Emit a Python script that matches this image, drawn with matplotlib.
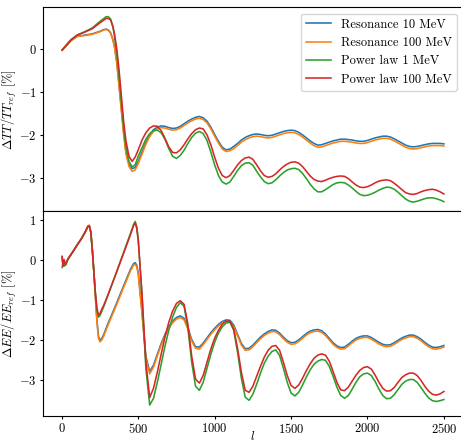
import matplotlib
matplotlib.use("Agg")
import matplotlib.pyplot as plt

plt.rcParams.update({
    "font.family": "serif",
    "font.serif": ["cmr10", "DejaVu Serif"],
    "mathtext.fontset": "cm",
    "axes.formatter.use_mathtext": True,
    "font.size": 9,
})

labels = ["Resonance 10 MeV", "Resonance 100 MeV", "Power law 1 MeV", "Power law 100 MeV"]
colors = ["#1f77b4", "#ff7f0e", "#2ca02c", "#d62728"]

# ---------------- TT panel ----------------
ell_tt = [2, 30, 60, 100, 150, 200, 250, 275, 290, 305, 320, 335, 345, 360,
          375, 390, 405, 420, 440, 460, 480] + list(range(500, 2501, 25))

tt_res10 = [-0.02, 0.08, 0.2, 0.3, 0.33, 0.36, 0.42, 0.46, 0.47, 0.45, 0.38, 0.22, 0.05, -0.3,
            -0.85, -1.4, -1.95, -2.4, -2.68, -2.79, -2.76,
            -2.62, -2.4, -2.18, -2.0, -1.88, -1.82, -1.79, -1.8, -1.83, -1.85,
            -1.84, -1.8, -1.74, -1.68, -1.63, -1.59, -1.57, -1.6, -1.68, -1.82,
            -1.99, -2.15, -2.29, -2.35, -2.33, -2.27, -2.2, -2.12, -2.06, -2.02,
            -1.99, -1.98, -1.99, -2.01, -2.02, -2.01, -1.98, -1.95, -1.92, -1.9,
            -1.89, -1.9, -1.94, -2.0, -2.07, -2.14, -2.2, -2.24, -2.23, -2.2,
            -2.17, -2.14, -2.12, -2.1, -2.1, -2.11, -2.12, -2.14, -2.15, -2.15,
            -2.13, -2.1, -2.07, -2.05, -2.03, -2.03, -2.05, -2.09, -2.14, -2.19,
            -2.24, -2.27, -2.28, -2.27, -2.25, -2.23, -2.21, -2.2, -2.2, -2.2,
            -2.21]

tt_res100 = [-0.02, 0.08, 0.2, 0.3, 0.32, 0.35, 0.41, 0.45, 0.46, 0.44, 0.37, 0.21, 0.04, -0.32,
             -0.88, -1.45, -2.0, -2.45, -2.74, -2.85, -2.82,
             -2.67, -2.45, -2.22, -2.04, -1.92, -1.86, -1.83, -1.84, -1.87, -1.89,
             -1.88, -1.84, -1.78, -1.72, -1.67, -1.63, -1.61, -1.64, -1.72, -1.86,
             -2.03, -2.19, -2.33, -2.39, -2.37, -2.32, -2.25, -2.17, -2.11, -2.07,
             -2.04, -2.03, -2.04, -2.06, -2.07, -2.06, -2.03, -2.0, -1.97, -1.95,
             -1.94, -1.95, -1.99, -2.05, -2.12, -2.19, -2.25, -2.29, -2.28, -2.25,
             -2.22, -2.19, -2.17, -2.15, -2.15, -2.16, -2.17, -2.19, -2.2, -2.2,
             -2.18, -2.15, -2.12, -2.1, -2.08, -2.08, -2.1, -2.14, -2.19, -2.24,
             -2.29, -2.32, -2.33, -2.32, -2.3, -2.28, -2.26, -2.25, -2.25, -2.25,
             -2.26]

tt_pl1 = [-0.02, 0.1, 0.22, 0.33, 0.41, 0.5, 0.65, 0.72, 0.76, 0.76, 0.7, 0.52, 0.3, -0.1,
          -0.65, -1.25, -1.85, -2.3, -2.62, -2.75, -2.7,
          -2.5, -2.3, -2.1, -1.97, -1.9, -1.89, -1.95, -2.1, -2.32, -2.5,
          -2.55, -2.48, -2.36, -2.2, -2.06, -1.96, -1.92, -1.97, -2.13, -2.4,
          -2.7, -2.95, -3.1, -3.15, -3.1, -2.97, -2.83, -2.72, -2.66, -2.65,
          -2.71, -2.85, -2.98, -3.09, -3.14, -3.12, -3.05, -2.96, -2.88, -2.82,
          -2.79, -2.78, -2.81, -2.9, -3.02, -3.15, -3.26, -3.33, -3.33, -3.28,
          -3.22, -3.16, -3.12, -3.11, -3.12, -3.17, -3.24, -3.32, -3.39, -3.42,
          -3.41, -3.38, -3.34, -3.29, -3.25, -3.22, -3.23, -3.27, -3.34, -3.42,
          -3.5, -3.55, -3.57, -3.55, -3.52, -3.49, -3.47, -3.47, -3.49, -3.52,
          -3.56]

tt_pl100 = [-0.02, 0.1, 0.22, 0.33, 0.4, 0.48, 0.62, 0.68, 0.72, 0.72, 0.68, 0.52, 0.35, 0.0,
            -0.5, -1.1, -1.7, -2.15, -2.5, -2.62, -2.52,
            -2.35, -2.12, -1.95, -1.84, -1.79, -1.8, -1.9, -2.08, -2.28, -2.41,
            -2.42, -2.35, -2.23, -2.09, -1.97, -1.88, -1.84, -1.86, -2.0, -2.23,
            -2.52, -2.78, -2.95, -3.0, -2.95, -2.83, -2.7, -2.6, -2.54, -2.52,
            -2.57, -2.7, -2.84, -2.95, -2.99, -2.97, -2.91, -2.82, -2.74, -2.68,
            -2.64, -2.63, -2.66, -2.74, -2.85, -2.96, -3.04, -3.08, -3.09, -3.06,
            -3.02, -2.99, -2.97, -2.96, -2.97, -3.02, -3.1, -3.17, -3.22, -3.23,
            -3.21, -3.17, -3.12, -3.08, -3.06, -3.05, -3.07, -3.13, -3.2, -3.28,
            -3.35, -3.38, -3.39, -3.37, -3.33, -3.3, -3.28, -3.27, -3.29, -3.33,
            -3.38]

# ---------------- EE panel ----------------
ell_ee = [2, 8, 15, 25, 40, 70, 100, 130, 155, 170, 180, 190, 200, 210, 220, 230,
          240, 250, 262, 275, 300, 350, 400, 450, 470, 480, 490] + list(range(500, 2501, 25))

ee_res10 = [0.08, -0.12, -0.05, -0.1, 0.03, 0.2, 0.38, 0.55, 0.72, 0.84, 0.86, 0.7, 0.25, -0.3, -0.9, -1.5,
            -1.9, -2.0, -1.95, -1.85, -1.6, -1.15, -0.68, -0.22, -0.08, -0.06, -0.12,
            -0.3, -1.3, -2.4, -2.78, -2.62, -2.35, -2.08, -1.85, -1.66, -1.52,
            -1.43, -1.39, -1.45, -1.68, -1.98, -2.16, -2.17, -2.07, -1.94, -1.81,
            -1.7, -1.6, -1.53, -1.49, -1.5, -1.62, -1.85, -2.08, -2.21, -2.2,
            -2.12, -2.02, -1.92, -1.84, -1.78, -1.74, -1.75, -1.82, -1.92, -2.01,
            -2.06, -2.05, -1.99, -1.91, -1.83, -1.77, -1.74, -1.73, -1.76, -1.84,
            -1.95, -2.06, -2.14, -2.18, -2.17, -2.1, -2.02, -1.95, -1.91, -1.89,
            -1.89, -1.93, -1.99, -2.05, -2.1, -2.12, -2.11, -2.06, -2.0, -1.94,
            -1.9, -1.87, -1.87, -1.91, -1.97, -2.05, -2.12, -2.17, -2.18, -2.16,
            -2.13]

ee_res100 = [0.08, -0.12, -0.05, -0.1, 0.03, 0.2, 0.38, 0.55, 0.73, 0.86, 0.88, 0.7, 0.25, -0.32, -0.95, -1.55,
             -1.95, -2.04, -1.99, -1.89, -1.64, -1.19, -0.72, -0.26, -0.12, -0.1, -0.16,
             -0.34, -1.34, -2.45, -2.84, -2.67, -2.39, -2.12, -1.89, -1.7, -1.56,
             -1.47, -1.43, -1.49, -1.72, -2.02, -2.2, -2.22, -2.11, -1.98, -1.85,
             -1.74, -1.64, -1.57, -1.53, -1.54, -1.66, -1.89, -2.12, -2.25, -2.24,
             -2.16, -2.06, -1.96, -1.88, -1.82, -1.78, -1.79, -1.86, -1.96, -2.05,
             -2.1, -2.09, -2.03, -1.95, -1.87, -1.81, -1.78, -1.77, -1.8, -1.88,
             -1.99, -2.1, -2.18, -2.22, -2.21, -2.14, -2.06, -1.99, -1.95, -1.93,
             -1.93, -1.97, -2.03, -2.09, -2.14, -2.16, -2.15, -2.1, -2.04, -1.98,
             -1.94, -1.91, -1.91, -1.95, -2.01, -2.09, -2.16, -2.21, -2.22, -2.2,
             -2.17]

ee_pl1 = [-0.18, -0.05, -0.15, -0.08, 0.03, 0.2, 0.38, 0.55, 0.72, 0.84, 0.86, 0.7, 0.25, -0.3, -0.85, -1.25,
          -1.42, -1.38, -1.27, -1.15, -0.9, -0.38, 0.15, 0.68, 0.9, 0.97, 0.85,
          0.55, -0.9, -2.7, -3.62, -3.45, -3.05, -2.6, -2.15, -1.75, -1.42,
          -1.18, -1.06, -1.15, -1.7, -2.55, -3.15, -3.25, -3.05, -2.7, -2.35,
          -2.05, -1.82, -1.66, -1.57, -1.55, -1.75, -2.3, -2.95, -3.42, -3.5,
          -3.35, -3.1, -2.82, -2.57, -2.4, -2.28, -2.24, -2.38, -2.7, -3.05,
          -3.32, -3.39, -3.3, -3.12, -2.92, -2.74, -2.6, -2.52, -2.48, -2.5,
          -2.65, -2.9, -3.17, -3.38, -3.45, -3.38, -3.22, -3.05, -2.91, -2.84,
          -2.82, -2.88, -3.03, -3.22, -3.38, -3.46, -3.45, -3.36, -3.23, -3.1,
          -3.02, -2.98, -2.98, -3.05, -3.18, -3.32, -3.44, -3.51, -3.53, -3.51,
          -3.48]

ee_pl100 = [0.1, -0.15, 0.02, -0.12, 0.03, 0.2, 0.38, 0.55, 0.72, 0.84, 0.86, 0.7, 0.25, -0.3, -0.82, -1.2,
            -1.37, -1.33, -1.22, -1.12, -0.88, -0.38, 0.13, 0.65, 0.87, 0.94, 0.8,
            0.5, -0.85, -2.55, -3.43, -3.2, -2.8, -2.35, -1.92, -1.55, -1.27,
            -1.08, -1.01, -1.1, -1.6, -2.4, -2.97, -3.07, -2.88, -2.55, -2.22,
            -1.95, -1.75, -1.6, -1.52, -1.52, -1.72, -2.2, -2.8, -3.25, -3.3,
            -3.15, -2.9, -2.65, -2.42, -2.25, -2.15, -2.13, -2.25, -2.55, -2.88,
            -3.13, -3.2, -3.12, -2.95, -2.76, -2.59, -2.45, -2.37, -2.34, -2.37,
            -2.52, -2.78, -3.05, -3.24, -3.26, -3.17, -3.02, -2.87, -2.75, -2.68,
            -2.66, -2.72, -2.87, -3.05, -3.2, -3.27, -3.26, -3.18, -3.05, -2.93,
            -2.86, -2.82, -2.82, -2.88, -3.0, -3.15, -3.27, -3.35, -3.37, -3.34,
            -3.28]

W, H = 461, 444
fig = plt.figure(figsize=(W / 100, H / 100), dpi=100)
left = 43 / W
right = 463 / W
ax1 = fig.add_axes([left, 1 - 211.3 / H, right - left, (211.3 - 7.3) / H])
ax2 = fig.add_axes([left, 1 - 415.7 / H, right - left, (415.7 - 211.3) / H], sharex=ax1)

for ys, c, lab in zip([tt_res10, tt_res100, tt_pl1, tt_pl100], colors, labels):
    ax1.plot(ell_tt, ys, color=c, lw=1.15, label=lab)
for ys, c, lab in zip([ee_res10, ee_res100, ee_pl1, ee_pl100], colors, labels):
    ax2.plot(ell_ee, ys, color=c, lw=1.15, label=lab)

ax1.set_xlim(-123, 2625)
ax1.set_ylim(-3.785, 0.98)
ax2.set_ylim(-3.885, 1.225)
ax1.set_yticks([0, -1, -2, -3])
ax2.set_yticks([1, 0, -1, -2, -3])
ax2.set_xticks([0, 500, 1000, 1500, 2000, 2500])
ax1.tick_params(labelbottom=False)
for ax in (ax1, ax2):
    ax.tick_params(length=2.5, pad=2)

ax1.set_ylabel(r"$\Delta TT/TT_{ref}$ [%]")
ax2.set_ylabel(r"$\Delta EE/EE_{ref}$ [%]")
ax1.yaxis.set_label_coords(-0.058, 0.5)
ax2.yaxis.set_label_coords(-0.058, 0.5)
ax2.set_xlabel(r"$l$")
ax2.xaxis.set_label_coords(0.5, -0.07)

ax1.legend(loc="upper right", fontsize=9)

fig.savefig("out.png", dpi=100)
